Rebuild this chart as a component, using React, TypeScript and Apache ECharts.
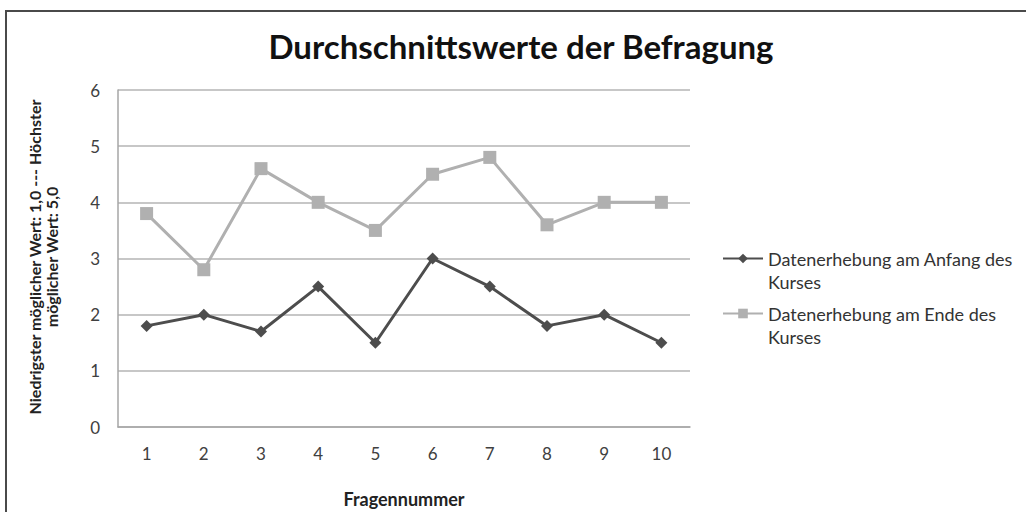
import React, { useEffect, useRef } from "react";
import * as echarts from "echarts";

const categories = ["1", "2", "3", "4", "5", "6", "7", "8", "9", "10"];
const anfangValues = [1.8, 2.0, 1.7, 2.5, 1.5, 3.0, 2.5, 1.8, 2.0, 1.5];
const endeValues = [3.8, 2.8, 4.6, 4.0, 3.5, 4.5, 4.8, 3.6, 4.0, 4.0];
const seriesNames = ["Datenerhebung am Anfang des Kurses", "Datenerhebung am Ende des Kurses"];
const legendLabels: Record<string, string> = {
  "Datenerhebung am Anfang des Kurses": "\nDatenerhebung am Anfang des\nKurses",
  "Datenerhebung am Ende des Kurses": "\nDatenerhebung am Ende des\nKurses",
};

const FONT = "Lato, 'Open Sans', sans-serif";

export default function App() {
  const ref = useRef<HTMLDivElement>(null);
  useEffect(() => {
    if (!ref.current) return;
    const chart = echarts.init(ref.current, null, { renderer: "svg" });
    chart.setOption({
      animation: false,
      backgroundColor: "#ffffff",
      title: {
        text: "Durchschnittswerte der Befragung",
        left: 516,
        textAlign: "center",
        top: 24,
        textStyle: { fontFamily: FONT, fontWeight: "bold", fontSize: 33, color: "#111111" },
      },
      grid: { left: 118, right: 336, top: 90, bottom: 85, outerBoundsMode: "none" },
      legend: {
        orient: "vertical",
        left: 717,
        top: 219,
        itemWidth: 40,
        itemHeight: 12,
        itemGap: -14,
        formatter: (name: string) => legendLabels[name] || name,
        textStyle: {
          fontFamily: FONT,
          fontSize: 18,
          color: "#333333",
          lineHeight: 23,
        },
        data: seriesNames,
      },
      xAxis: {
        type: "category",
        data: categories,
        boundaryGap: true,
        name: "Fragennummer",
        nameLocation: "middle",
        nameGap: 63,
        nameTextStyle: { fontFamily: FONT, fontWeight: "bold", fontSize: 18, color: "#222222" },
        axisLine: { show: true, lineStyle: { color: "#a6a6a6", width: 1.5 } },
        axisTick: { show: false },
        axisLabel: { margin: 18, fontFamily: FONT, fontSize: 17, color: "#404040" },
      },
      yAxis: {
        type: "value",
        min: 0,
        max: 6,
        interval: 1,
        axisLine: { show: true, lineStyle: { color: "#a6a6a6", width: 1.5 } },
        axisTick: { show: false },
        axisLabel: { margin: 18, fontFamily: FONT, fontSize: 17, color: "#404040" },
        splitLine: { show: true, lineStyle: { color: "#b4b4b4", width: 1.5 } },
      },
      graphic: [
        {
          type: "rect",
          silent: true,
          shape: { x: 6, y: 11, width: 1200, height: 700 },
          style: { fill: "none", stroke: "#4a4a4a", lineWidth: 2 },
        },
        {
          type: "text",
          x: 43,
          y: 257,
          rotation: Math.PI / 2,
          style: {
            text: "Niedrigster möglicher Wert: 1,0 --- Höchster\nmöglicher Wert: 5,0",
            fontFamily: FONT,
            fontWeight: "bold",
            fontSize: 16,
            lineHeight: 17,
            fill: "#222222",
            align: "center",
            verticalAlign: "middle",
          },
        },
      ],
      series: [
        {
          name: seriesNames[0],
          type: "line",
          data: anfangValues,
          symbol: "diamond",
          symbolSize: 12,
          itemStyle: { color: "#4d4d4d" },
          lineStyle: { color: "#4d4d4d", width: 3 },
        },
        {
          name: seriesNames[1],
          type: "line",
          data: endeValues,
          symbol: "rect",
          symbolSize: 13,
          itemStyle: { color: "#b0b0b0" },
          lineStyle: { color: "#b0b0b0", width: 3 },
        },
      ],
    });
    return () => chart.dispose();
  }, []);
  return (
    <div
      ref={ref}
      style={{ position: "fixed", left: 0, top: 0, width: 1026, height: 512, background: "#fff" }}
    />
  );
}
